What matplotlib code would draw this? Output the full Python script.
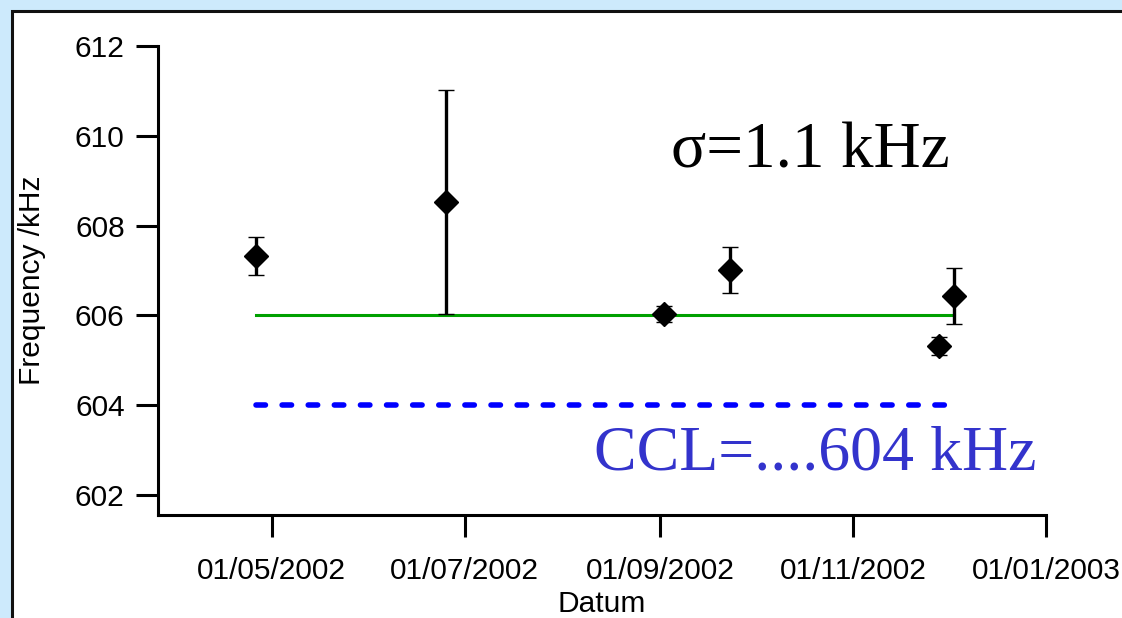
import numpy as np
import matplotlib
matplotlib.use("Agg")
import matplotlib.pyplot as plt
import matplotlib.dates as mdates
from matplotlib.patches import Rectangle
from datetime import datetime

dates = ["2002-04-26", "2002-06-25", "2002-09-02", "2002-09-23", "2002-11-28", "2002-12-03"]
freq = [607.32, 608.53, 606.03, 607.01, 605.32, 606.43]
err = [0.42, 2.5, 0.18, 0.52, 0.2, 0.62]

mean_freq = 606.0
ccl_freq = 604.0
yticks = [602, 604, 606, 608, 610, 612]
xticks = ["2002-05-01", "2002-07-01", "2002-09-01", "2002-11-01", "2003-01-01"]
xlim = ["2002-03-26", "2003-01-01"]

sigma_text = "σ=1.1 kHz"
ccl_text = "CCL=....604 kHz"

plt.rcParams["font.family"] = ["Liberation Sans", "DejaVu Sans"]
serif = ["Liberation Serif", "DejaVu Serif"]

to_dt = lambda s: datetime.strptime(s, "%Y-%m-%d")
x = [to_dt(d) for d in dates]

fig = plt.figure(figsize=(11.22, 6.18), dpi=100)
fig.patch.set_facecolor("#cdeafc")
# cadre blanc
fig.patches.append(Rectangle((12 / 1122, -0.05), 1.1, 1 - 11 / 618 + 0.05,
                             transform=fig.transFigure, facecolor="white",
                             edgecolor="#111111", linewidth=2.2, zorder=-5))

ax = fig.add_axes([158 / 1122, 1 - 515 / 618, (1046 - 158) / 1122, (515 - 46) / 618])
ax.set_facecolor("none")

ax.plot([x[0], x[-1]], [mean_freq, mean_freq], color="#00a000", lw=2.2, zorder=2)
ax.plot([x[0], x[-1]], [ccl_freq, ccl_freq], color="#0000ff", lw=4.0,
        dashes=(1.7, 3.0), dash_capstyle="round", zorder=2)

ax.errorbar(x, freq, yerr=err, fmt="D", color="black", ms=12.0, mew=1.0,
            elinewidth=2.4, capsize=5.5, capthick=2.4, zorder=3)

ax.set_xlim(to_dt(xlim[0]), to_dt(xlim[1]))
ax.set_ylim(601.555, 612)
ax.set_yticks(yticks)
ax.set_xticks([to_dt(d) for d in xticks])
ax.xaxis.set_major_formatter(mdates.DateFormatter("%d/%m/%Y"))

for s in ["top", "right"]:
    ax.spines[s].set_visible(False)
for s in ["left", "bottom"]:
    ax.spines[s].set_linewidth(2.2)
ax.tick_params(direction="out", length=16, width=2.2, labelsize=21.5, pad=8)
ax.tick_params(axis="x", pad=14)

ax.set_xlabel("Datum", fontsize=21.5, labelpad=4)
ax.set_ylabel("Frequency /kHz", fontsize=21.5, labelpad=21)

ax.text(0.735, 0.742, sigma_text, transform=ax.transAxes, ha="center",
        va="baseline", fontsize=47, family=serif, color="black")
ax.text(0.740, 0.096, ccl_text, transform=ax.transAxes, ha="center",
        va="baseline", fontsize=46, family=serif, color="#3333cc")

fig.savefig("out.png", dpi=100, facecolor=fig.get_facecolor())
